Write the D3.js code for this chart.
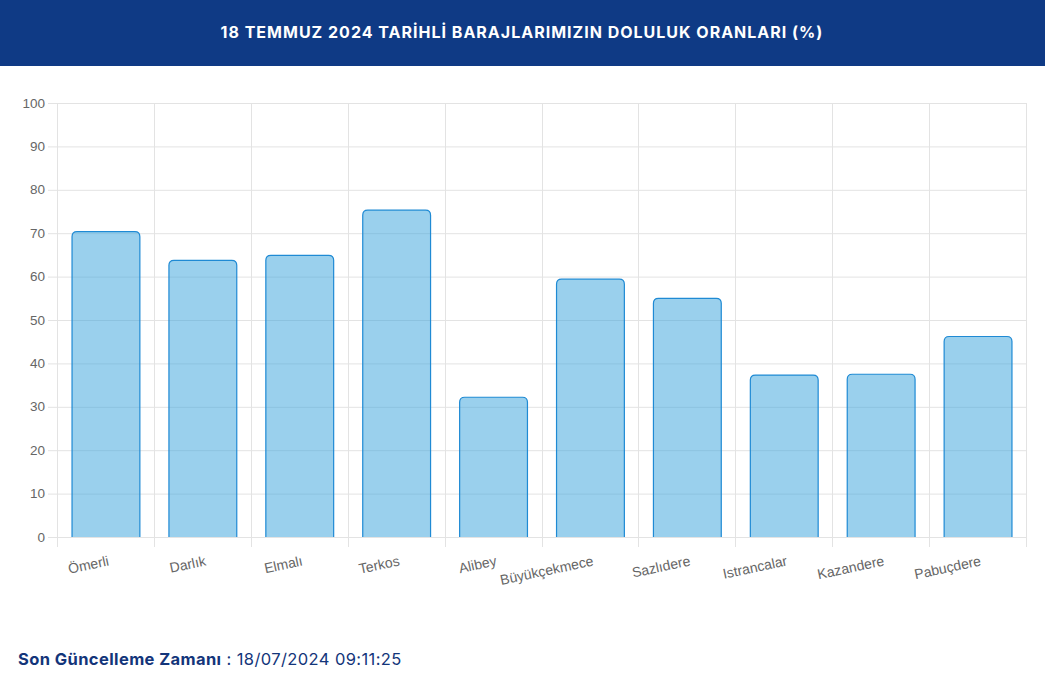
<!DOCTYPE html>
<html><head><meta charset="utf-8">
<script src="https://cdn.jsdelivr.net/npm/d3@7/dist/d3.min.js"></script>
<style>
html,body{margin:0;padding:0;background:#fff;}
svg{display:block;}
</style></head>
<body>
<svg id="c" width="1045" height="685"></svg>
<script>
const title = "18 TEMMUZ 2024 TARİHLİ BARAJLARIMIZIN DOLULUK ORANLARI (%)";
const categories = ["Ömerli","Darlık","Elmalı","Terkos","Alibey","Büyükçekmece","Sazlıdere","Istrancalar","Kazandere","Pabuçdere"];
const values = [70.35, 63.76, 64.9, 75.3, 32.2, 59.4, 55.0, 37.3, 37.5, 46.2];
const yTicks = [0,10,20,30,40,50,60,70,80,90,100];
const footerLabel = "Son Güncelleme Zamanı";
const footerValue = " : 18/07/2024 09:11:25";

const svg = d3.select("#c");
const W = 1045;
svg.append("rect").attr("x",0).attr("y",0).attr("width",W).attr("height",66).attr("fill","#0f3a85");
svg.append("text").attr("x",522).attr("y",38).attr("text-anchor","middle")
  .attr("fill","#fff").attr("font-family","Inter, 'Open Sans', sans-serif").attr("font-weight",700)
  .attr("font-size",16).attr("letter-spacing","1").text(title);

const m = {l:57, r:1026, t:103, b:537};
const x = d3.scaleBand().domain(categories).range([m.l,m.r]).paddingInner(0).paddingOuter(0);
const y = d3.scaleLinear().domain([0,100]).range([m.b,m.t]);

const g = svg.append("g");
g.selectAll("line.hg").data(yTicks).enter().append("line")
  .attr("x1",m.l-9).attr("x2",m.r).attr("y1",d=>y(d)+0.5).attr("y2",d=>y(d)+0.5)
  .attr("stroke","#e3e3e3").attr("stroke-width",1);
const vx = categories.map(c=>x(c)).concat([m.r]);
g.selectAll("line.vg").data(vx).enter().append("line")
  .attr("x1",d=>Math.round(d)+0.5).attr("x2",d=>Math.round(d)+0.5).attr("y1",m.t).attr("y2",m.b+10)
  .attr("stroke","#e3e3e3").attr("stroke-width",1);

g.selectAll("text.yl").data(yTicks).enter().append("text")
  .attr("x",m.l-12).attr("y",d=>y(d)+4.5).attr("text-anchor","end")
  .attr("fill","#666").attr("font-family","'Liberation Sans', Arial, sans-serif").attr("font-size",13.5)
  .text(d=>d);

const bw = x.bandwidth()*0.7;
function barPath(x0,y0,w,h,r){
  r = Math.min(r,h,w/2);
  return `M${x0},${y0+h} L${x0},${y0+r} Q${x0},${y0} ${x0+r},${y0} L${x0+w-r},${y0} Q${x0+w},${y0} ${x0+w},${y0+r} L${x0+w},${y0+h}`;
}
g.selectAll("path.bar").data(values).enter().append("path")
  .attr("d",(d,i)=>{
    const cx = x(categories[i]) + x.bandwidth()/2;
    const x0 = cx - bw/2 + 0.5;
    const y0 = y(d);
    return barPath(x0,y0,bw,y(0)-y0,5) + " Z";
  })
  .attr("fill","rgba(54,162,220,0.5)").attr("stroke","none");
g.selectAll("path.barb").data(values).enter().append("path")
  .attr("d",(d,i)=>{
    const cx = x(categories[i]) + x.bandwidth()/2;
    const x0 = cx - bw/2 + 0.5;
    const y0 = y(d);
    return barPath(x0,y0,bw,y(0)-y0,5);
  })
  .attr("fill","none").attr("stroke","#1f8ad4").attr("stroke-width",1.2);

g.selectAll("text.xl").data(categories).enter().append("text")
  .attr("transform",d=>`translate(${x(d)+x.bandwidth()/2+2},${m.b+18}) rotate(-12)`)
  .attr("text-anchor","end").attr("dy","0.75em")
  .attr("fill","#666").attr("font-family","'Liberation Sans', Arial, sans-serif").attr("font-size",14)
  .text(d=>d);

const ft = svg.append("text").attr("x",18).attr("y",665)
  .attr("font-family","Inter, 'Open Sans', sans-serif").attr("font-size",16.5).attr("letter-spacing","0.4").attr("fill","#13357a");
ft.append("tspan").attr("font-weight",700).text(footerLabel);
ft.append("tspan").attr("font-weight",400).text(footerValue);
</script>
</body></html>
